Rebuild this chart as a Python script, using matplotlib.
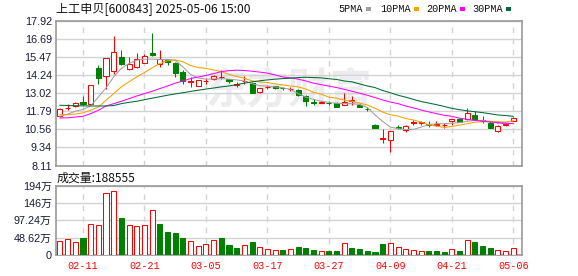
import matplotlib
matplotlib.use("Agg")
import matplotlib.pyplot as plt
from matplotlib.patches import Rectangle
import numpy as np

# trading days shown
dates = ["02-06", "02-07", "02-10", "02-11", "02-12", "02-13", "02-14", "02-17", "02-18", "02-19",
         "02-20", "02-21", "02-24", "02-25", "02-26", "02-27", "02-28", "03-03", "03-04", "03-05",
         "03-06", "03-07", "03-10", "03-11", "03-12", "03-13", "03-14", "03-17", "03-18", "03-19",
         "03-20", "03-21", "03-24", "03-25", "03-26", "03-27", "03-28", "03-31", "04-01", "04-02",
         "04-03", "04-07", "04-08", "04-09", "04-10", "04-11", "04-14", "04-15", "04-16", "04-17",
         "04-18", "04-21", "04-22", "04-23", "04-24", "04-25", "04-28", "04-29", "04-30", "05-06"]
tick_dates = ["02-11", "02-21", "03-05", "03-17", "03-27", "04-09", "04-21", "05-06"]

opens = [11.47, 11.99, 12.15, 12.42, 12.31, 14.70, 14.20, 14.54, 15.47, 14.63,
         14.81, 15.10, 15.72, 14.97, 15.27, 15.08, 14.47, 13.78, 13.51, 13.86,
         13.95, 14.12, 13.97, 13.58, 13.85, 13.74, 13.11, 13.43, 13.49, 13.40,
         13.28, 13.22, 12.83, 12.42, 12.38, 12.38, 12.38, 12.25, 12.52, 12.24,
         11.97, 10.83, 9.93, 9.81, 10.70, 10.54, 11.01, 11.01, 10.92, 10.88,
         10.86, 11.12, 11.24, 11.24, 11.56, 11.18, 10.99, 10.43, 10.84, 11.13]
highs = [12.00, 12.30, 12.42, 12.83, 13.56, 14.92, 15.44, 16.90, 15.94, 15.47,
         15.72, 15.67, 17.08, 15.94, 15.33, 15.15, 14.58, 14.13, 13.90, 14.06,
         14.24, 14.58, 14.01, 13.79, 14.17, 13.79, 13.38, 13.56, 13.54, 13.47,
         13.45, 13.29, 12.88, 12.63, 12.50, 12.50, 12.42, 13.00, 12.83, 12.27,
         12.08, 10.95, 10.56, 10.43, 10.88, 10.83, 11.18, 11.15, 11.11, 11.11,
         11.02, 11.24, 11.24, 12.04, 11.79, 11.45, 11.11, 10.83, 11.02, 11.38]
lows = [11.42, 11.87, 12.08, 12.24, 12.28, 13.67, 13.29, 14.35, 14.92, 14.58,
        14.76, 15.04, 15.56, 14.81, 14.92, 14.13, 13.67, 13.45, 13.51, 13.67,
        13.90, 13.97, 13.72, 13.45, 13.67, 13.00, 13.04, 13.29, 13.33, 13.22,
        13.15, 12.83, 12.15, 12.22, 12.33, 12.22, 12.06, 12.20, 12.24, 12.08,
        11.81, 10.68, 9.65, 9.02, 10.56, 10.38, 10.88, 10.88, 10.72, 10.79,
        10.68, 10.83, 11.06, 11.18, 11.24, 11.02, 10.65, 10.38, 10.79, 11.10]
closes = [11.97, 12.03, 12.38, 12.29, 13.56, 14.06, 15.44, 15.79, 14.97, 14.97,
          15.31, 15.56, 15.60, 15.31, 15.15, 14.42, 13.83, 13.83, 13.90, 13.88,
          14.20, 14.14, 13.83, 13.62, 13.87, 13.06, 13.38, 13.45, 13.38, 13.36,
          13.31, 12.88, 12.47, 12.38, 12.42, 12.34, 12.11, 12.42, 12.56, 12.11,
          11.93, 10.68, 9.97, 10.43, 10.66, 10.77, 11.05, 11.05, 10.88, 10.92,
          10.88, 11.24, 11.06, 11.70, 11.24, 11.16, 10.65, 10.77, 10.95, 11.36]

ma5 = [11.45, 11.60, 11.79, 11.92, 12.15, 12.76, 13.38, 14.13, 14.70, 15.04,
       15.26, 15.33, 15.33, 15.31, 15.31, 15.26, 14.80, 14.29, 14.05, 13.97,
       13.99, 14.01, 13.97, 13.92, 13.85, 13.67, 13.53, 13.49, 13.45, 13.38,
       13.28, 13.00, 12.75, 12.60, 12.47, 12.40, 12.33, 12.31, 12.31, 12.26,
       12.05, 11.55, 11.10, 10.72, 10.61, 10.55, 10.56, 10.72, 10.88, 10.95,
       10.95, 10.98, 11.02, 11.11, 11.17, 11.17, 11.10, 10.98, 10.95, 10.97]
ma10 = [11.56, 11.56, 11.60, 11.68, 11.86, 12.08, 12.54, 12.99, 13.45, 13.79,
        14.13, 14.42, 14.74, 15.04, 15.22, 15.28, 15.15, 14.90, 14.76, 14.70,
        14.60, 14.48, 14.30, 14.15, 14.03, 13.86, 13.78, 13.74, 13.65, 13.58,
        13.51, 13.45, 13.30, 13.08, 12.95, 12.75, 12.68, 12.55, 12.47, 12.35,
        12.22, 12.00, 11.74, 11.55, 11.47, 11.30, 11.20, 11.06, 10.88, 10.78,
        10.70, 10.76, 10.85, 10.95, 11.05, 11.08, 11.11, 11.08, 11.06, 11.15]
ma20 = [11.33, 11.35, 11.40, 11.45, 11.63, 11.86, 12.15, 12.31, 12.47, 12.65,
        12.83, 12.99, 13.15, 13.33, 13.51, 13.70, 13.85, 14.01, 14.12, 14.22,
        14.35, 14.48, 14.55, 14.58, 14.56, 14.51, 14.45, 14.38, 14.26, 14.12,
        14.06, 13.97, 13.85, 13.70, 13.60, 13.50, 13.40, 13.28, 13.15, 13.02,
        12.88, 12.72, 12.56, 12.42, 12.31, 12.15, 12.02, 11.88, 11.75, 11.63,
        11.52, 11.45, 11.32, 11.25, 11.17, 11.12, 11.06, 11.02, 10.99, 10.95]
ma30 = [12.20, 12.18, 12.17, 12.16, 12.15, 12.15, 12.15, 12.18, 12.31, 12.40,
        12.47, 12.58, 12.68, 12.78, 12.88, 12.97, 13.05, 13.14, 13.22, 13.30,
        13.37, 13.45, 13.51, 13.60, 13.70, 13.79, 13.86, 13.92, 13.97, 14.01,
        14.04, 14.08, 14.10, 14.08, 14.06, 14.00, 13.95, 13.85, 13.79, 13.65,
        13.51, 13.40, 13.20, 13.05, 12.88, 12.75, 12.60, 12.45, 12.35, 12.24,
        12.12, 11.99, 11.90, 11.82, 11.76, 11.70, 11.62, 11.54, 11.50, 11.45]

# volume in 万 hands, and whether the bar is red (up) or green
volume = [39.2, 43.9, 36.4, 47.6, 86.8, 84.0, 173.5, 179.0, 102.6, 84.0,
          81.2, 84.0, 125.0, 86.8, 64.4, 61.6, 47.6, 39.2, 24.3, 30.8,
          42.0, 47.6, 28.0, 19.6, 27.1, 36.4, 21.5, 15.9, 13.1, 14.0,
          15.9, 22.4, 19.6, 14.0, 11.2, 11.2, 11.2, 32.7, 19.6, 16.8,
          11.2, 8.4, 30.8, 32.7, 21.5, 15.9, 13.1, 11.2, 11.2, 11.2,
          8.4, 15.9, 11.2, 41.1, 36.4, 25.2, 19.6, 13.1, 11.2, 18.86]
vol_up = [1, 1, 1, 0, 1, 1, 1, 1, 0, 1,
          1, 1, 1, 0, 0, 0, 0, 1, 1, 1,
          1, 0, 0, 0, 1, 0, 1, 1, 1, 0,
          1, 0, 0, 0, 1, 0, 0, 1, 0, 0,
          0, 0, 0, 1, 1, 1, 1, 1, 0, 0,
          0, 1, 0, 1, 0, 0, 0, 1, 1, 1]

price_ticks = ["17.92", "16.69", "15.47", "14.24", "13.02", "11.79", "10.56", "9.34", "8.11"]
vol_ticks = ["0", "48.62万", "97.24万", "146万", "194万"]
vol_tick_vals = [0, 48.62, 97.24, 145.86, 194.48]
title = "上工申贝[600843] 2025-05-06 15:00"
vol_title = "成交量:188555"
ma_names = ["5PMA", "10PMA", "20PMA", "30PMA"]

RED = "#ff0000"
GREEN = "#008000"
MA_COLORS = ["#a0a0a0", "#f5a300", "#ff00ff", "#006b34"]
LBL = "#1a1a3a"
GRID = "#d3d3d3"
FRAME = "#999999"
LW = 0.75  # about one pixel

W, H = 578, 276
fig = plt.figure(figsize=(W / 100, H / 100), dpi=100)
CJK = ["Noto Sans CJK SC", "DejaVu Sans"]
NUM = ["Liberation Sans", "Noto Sans CJK SC"]
MONO = "Liberation Mono"


def px_axes(x0, y0, x1, y1):
    return fig.add_axes([x0 / W, 1 - y1 / H, (x1 - x0) / W, (y1 - y0) / H])


ax = px_axes(56, 21, 522, 165.5)
axv = px_axes(56, 185.7, 522, 255)

x = np.arange(len(dates))
o = np.array(opens)
c = np.array(closes)
up = c >= o
xlim = (-0.51, 60.13)
bw = 0.66

# price panel
tvals = [float(t) for t in price_ticks]
ax.set_ylim(8.11, 17.92)
ax.set_xlim(*xlim)
ax.set_yticks(tvals)
ax.set_yticklabels(price_ticks, color=LBL, fontsize=7.8, family=NUM)
ax.tick_params(axis="y", length=0, pad=3)
tick_idx = [dates.index(d) for d in tick_dates]
for a in (ax, axv):
    a.set_xticks(tick_idx)
    a.grid(axis="y", color=GRID, lw=1, zorder=0)
    for i in tick_idx:
        a.axvline(i, color=GRID, lw=1, ls=(0, (4, 4)), zorder=0)
    for s in a.spines.values():
        s.set_color(FRAME)
        s.set_linewidth(1.2)
    a.set_axisbelow(True)
ax.tick_params(axis="x", length=0, labelbottom=False)

ax.text(0.5, 0.52, "东方财富", transform=ax.transAxes, ha="center", va="center",
        fontsize=30, fontweight="bold", style="italic", color="#ececf0",
        family=CJK, zorder=0.5)

for i in x:
    col = RED if up[i] else GREEN
    ax.vlines(i, lows[i], highs[i], color=col, lw=LW, zorder=3)
    lo, hi = min(o[i], c[i]), max(o[i], c[i])
    h = max(hi - lo, 0.012)
    ax.add_patch(Rectangle((i - bw / 2, lo), bw, h,
                           facecolor="white" if up[i] else GREEN,
                           edgecolor=col, lw=LW, zorder=4))

for vals, col in zip([ma5, ma10, ma20, ma30], MA_COLORS):
    ax.plot(x, vals, color=col, lw=LW, zorder=5)

# volume panel
axv.set_xlim(*xlim)
axv.set_ylim(0, 194.48)
axv.set_yticks(vol_tick_vals)
axv.set_yticklabels(vol_ticks, color=LBL, fontsize=7.8, family=NUM)
axv.tick_params(axis="y", length=0, pad=3)
axv.set_xticklabels(tick_dates, color=RED, fontsize=7.3, family=MONO)
axv.tick_params(axis="x", length=0, pad=4)
for i in x:
    if vol_up[i]:
        axv.add_patch(Rectangle((i - bw / 2, 0), bw, volume[i], facecolor="white",
                                edgecolor=RED, lw=LW, zorder=3))
    else:
        axv.add_patch(Rectangle((i - bw / 2, 0), bw, volume[i], facecolor=GREEN,
                                edgecolor=GREEN, lw=LW, zorder=3))

# header texts
fig.text(56 / W, 1 - 9 / H, title, fontsize=8.7, family=CJK, va="center", ha="left", color="#111111")
fig.text(57 / W, 1 - 178 / H, vol_title, fontsize=8.6, family=CJK, va="center", ha="left", color="#111111")

lx = [338, 380, 426, 472]
for name, col, x0 in zip(ma_names, MA_COLORS, lx):
    fig.text(x0 / W, 1 - 9 / H, name, fontsize=7.3, family=MONO, va="center", ha="left", color="#111111")
    sq_x = x0 + 6 * len(name) + 4
    fig.patches.append(Rectangle((sq_x / W, 1 - 10.5 / H), 5 / W, 3 / H,
                                 transform=fig.transFigure, facecolor=col, edgecolor="none"))

fig.savefig("out.png", dpi=100)
